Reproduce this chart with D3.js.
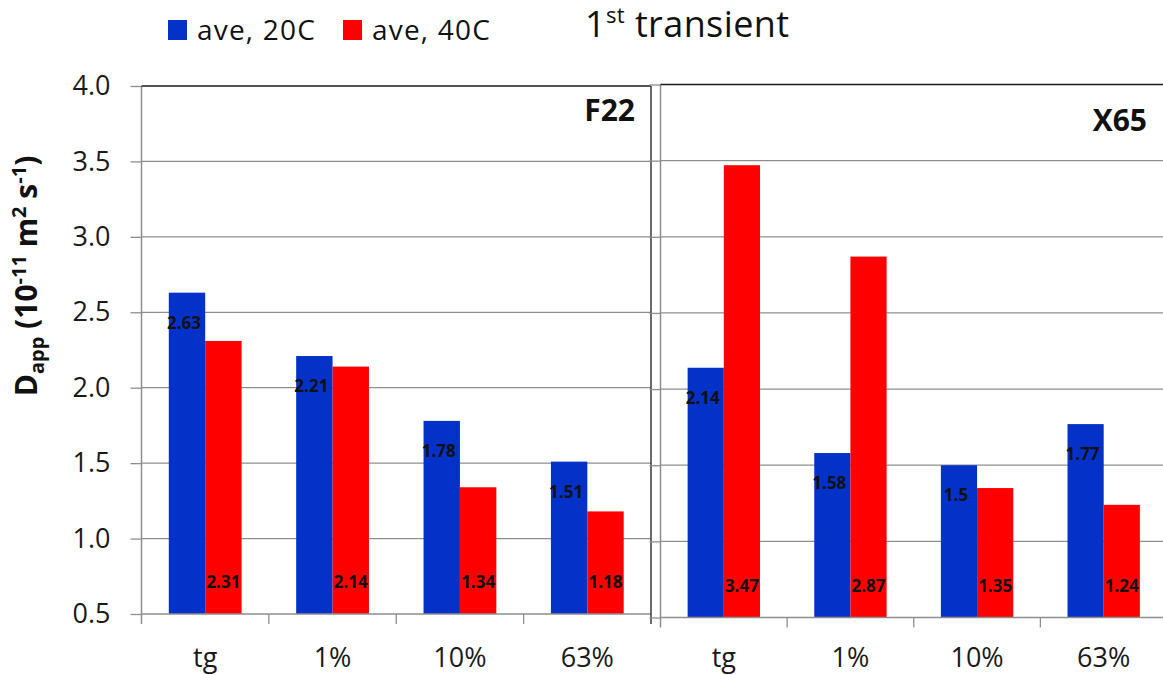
<!DOCTYPE html>
<html><head><meta charset="utf-8">
<script src="https://cdn.jsdelivr.net/npm/d3@7"></script>
<style>
body{margin:0;background:#fff}
svg{display:block;font-family:'Open Sans',sans-serif}
</style>
</head><body>
<svg id="chart" width="1163" height="675"></svg>
<script>
// Apparent diffusivity, 1st transient — two steels, two temperatures
const categories = ["tg", "1%", "10%", "63%"];
const seriesNames = ["ave, 20C", "ave, 40C"];
const f22_20C = [2.63, 2.21, 1.78, 1.51];
const f22_40C = [2.31, 2.14, 1.34, 1.18];
const x65_20C = [2.14, 1.58, 1.5, 1.77];
const x65_40C = [3.47, 2.87, 1.35, 1.24];
const yTicks = [0.5, 1.0, 1.5, 2.0, 2.5, 3.0, 3.5, 4.0];
const yTickLabels = ["0.5", "1.0", "1.5", "2.0", "2.5", "3.0", "3.5", "4.0"];
const panelNames = ["F22", "X65"];

const colors = ["#0432c8", "#ff0000"];
const svg = d3.select("#chart");

const panels = [
  {name: panelNames[0], series: [f22_20C, f22_40C], x0: 141.5, x1: 651, yTop: 86, yBot: 614, nameX: 635, nameY: 121},
  {name: panelNames[1], series: [x65_20C, x65_40C], x0: 660.5, x1: 1167, yTop: 84.5, yBot: 617.5, nameX: 1147, nameY: 131}
];

panels.forEach((p, pi) => {
  const g = svg.append("g");
  const x = d3.scaleBand().domain(categories).range([p.x0, p.x1]).padding(0);
  const xs = d3.scaleBand().domain(seriesNames).range([0, x.bandwidth()]).paddingInner(0).paddingOuter(0.75);
  const y = d3.scaleLinear().domain([0.5, 4.0]).range([p.yBot, p.yTop]);

  // horizontal gridlines
  g.selectAll("line.grid").data(yTicks.filter(t => t > 0.5 && t < 4.0)).join("line")
    .attr("x1", p.x0).attr("x2", Math.min(p.x1, 1163))
    .attr("y1", d => y(d)).attr("y2", d => y(d))
    .attr("stroke", "#8e8e8e").attr("stroke-width", 1.3);

  // bars
  const rows = categories.map((c, i) => ({c, i}));
  seriesNames.forEach((s, si) => {
    g.selectAll("rect.s" + si).data(rows).join("rect")
      .attr("x", d => x(d.c) + xs(s))
      .attr("width", xs.bandwidth())
      .attr("y", d => y(p.series[si][d.i]))
      .attr("height", d => y(0.5) - y(p.series[si][d.i]))
      .attr("fill", colors[si]);
  });

  // y axis with outward ticks
  const yAxis = d3.axisLeft(y).tickValues(yTicks).tickSize(11).tickFormat((d, i) => pi === 0 ? yTickLabels[i] : "");
  const ya = g.append("g").attr("transform", `translate(${p.x0},0)`).call(yAxis);
  ya.select(".domain").remove();
  ya.selectAll(".tick line").attr("stroke", "#8e8e8e").attr("stroke-width", 1.3);
  ya.selectAll(".tick text").attr("x", -31).attr("fill", "#1a1a1a")
    .style("font-size", "27px").style("font-family", "'Open Sans',sans-serif");

  // x axis: category boundaries as ticks
  const bounds = categories.map(c => x(c)).concat([p.x1]);
  g.append("line").attr("x1", p.x0).attr("x2", Math.min(p.x1, 1163)).attr("y1", p.yBot).attr("y2", p.yBot)
    .attr("stroke", "#8e8e8e").attr("stroke-width", 1.3);
  g.selectAll("line.xt").data(bounds.slice(1, 4)).join("line")
    .attr("x1", d => d).attr("x2", d => d).attr("y1", p.yBot).attr("y2", p.yBot + 10)
    .attr("stroke", "#8e8e8e").attr("stroke-width", 1.3);
  g.selectAll("text.xl").data(categories).join("text")
    .attr("x", d => x(d) + x.bandwidth() / 2).attr("y", 667)
    .attr("text-anchor", "middle").attr("fill", "#1a1a1a")
    .style("font-size", "27px").text(d => d);

  // left axis line
  g.append("line").attr("x1", p.x0).attr("x2", p.x0).attr("y1", p.yTop).attr("y2", p.yBot + 10)
    .attr("stroke", "#8e8e8e").attr("stroke-width", 1.5);
  // top border
  g.append("line").attr("x1", p.x0).attr("x2", Math.min(p.x1, 1163)).attr("y1", p.yTop).attr("y2", p.yTop)
    .attr("stroke", "#1a1a1a").attr("stroke-width", 1.5);
  // right border
  if (p.x1 < 1163) {
    g.append("line").attr("x1", p.x1).attr("x2", p.x1).attr("y1", p.yTop).attr("y2", p.yBot + 10)
      .attr("stroke", "#3a3a3a").attr("stroke-width", 1.5);
  }

  // value labels: 20C near bar top, 40C near bar base
  seriesNames.forEach((s, si) => {
    g.selectAll("text.v" + si).data(rows).join("text")
      .attr("x", d => x(d.c) + xs(s) + xs.bandwidth() / 2 - (si === 0 ? 3 : 0))
      .attr("y", d => si === 0 ? y(p.series[si][d.i]) + 36 : y(0.5) - 26)
      .attr("text-anchor", "middle").attr("fill", "#111")
      .style("font-size", "17px").style("font-weight", 700)
      .text(d => String(p.series[si][d.i]));
  });

  // panel name
  g.append("text").attr("x", p.nameX).attr("y", p.nameY).attr("text-anchor", "end")
    .attr("fill", "#111").style("font-size", "30px").style("font-weight", 700).text(p.name);
});

// y axis title
const yt = svg.append("text").attr("transform", "translate(37,276) rotate(-90)")
  .attr("text-anchor", "middle").attr("fill", "#111")
  .style("font-size", "30px").style("font-weight", 700);
yt.append("tspan").text("D");
yt.append("tspan").attr("dy", 7).style("font-size", "20px").text("app");
yt.append("tspan").attr("dy", -7).text(" (10");
yt.append("tspan").attr("dy", -11).style("font-size", "20px").text("-11");
yt.append("tspan").attr("dy", 11).text(" m");
yt.append("tspan").attr("dy", -11).style("font-size", "20px").text("2");
yt.append("tspan").attr("dy", 11).text(" s");
yt.append("tspan").attr("dy", -11).style("font-size", "20px").text("-1");
yt.append("tspan").attr("dy", 11).text(")");

// legend
const legend = svg.append("g");
const legX = [168, 343];
seriesNames.forEach((s, i) => {
  legend.append("rect").attr("x", legX[i]).attr("y", 20).attr("width", 19).attr("height", 20).attr("fill", colors[i]);
  legend.append("text").attr("x", legX[i] + 29).attr("y", 40).attr("fill", "#111")
    .style("font-size", "28px").style("letter-spacing", "1.2px").text(s);
});

// title
const title = svg.append("text").attr("x", 585).attr("y", 37).attr("fill", "#111")
  .style("font-size", "36px").style("letter-spacing", "0.4px");
title.append("tspan").text("1");
title.append("tspan").attr("dy", -14).style("font-size", "22px").text("st");
title.append("tspan").attr("dy", 14).text(" transient");
</script>
</body></html>
